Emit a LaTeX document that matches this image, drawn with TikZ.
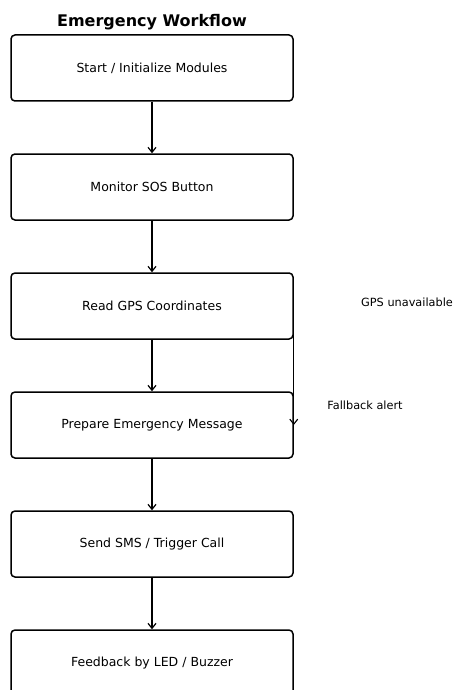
\documentclass[tikz,border=0pt]{standalone}
\usepackage{fontspec}
\setmainfont{DejaVu Sans}
\usetikzlibrary{arrows.meta}
\begin{document}
\begin{tikzpicture}[x=1pt,y=-1pt,
    stepbox/.style={draw,line width=1.5pt,rounded corners=4pt,minimum width=282pt,minimum height=66pt,inner sep=0pt,font=\fontsize{12.5}{15}\selectfont},
    flow/.style={-{Straight Barb[length=5pt,width=8pt]},line width=1.2pt},
    note/.style={font=\fontsize{11.3}{13}\selectfont}]
    \useasboundingbox (0,0) rectangle (454,690);
    \clip (0,0) rectangle (454,690);
    \node[font=\bfseries\fontsize{16}{19}\selectfont] (title) at (152,22) {Emergency Workflow};
    \foreach \name/\txt [count=\i from 0] in {start/{Start / Initialize Modules},monitor/{Monitor SOS Button},gps/{Read GPS Coordinates},prepare/{Prepare Emergency Message},send/{Send SMS / Trigger Call},feedback/{Feedback by LED / Buzzer}}{
        \node[stepbox] (\name) at (152,{68+119*\i}) {\txt};
    }
    \foreach \a/\b in {start/monitor,monitor/gps,gps/prepare,prepare/send,send/feedback}{
        \draw[flow] (\a.south) -- (\b.north);
    }
    \draw[flow,line width=1.1pt] (gps.east) -- (prepare.east);
    \node[note] (unavail) at (407,302) {GPS unavailable};
    \node[note] (fallback) at (365,405) {Fallback alert};
\end{tikzpicture}
\end{document}
